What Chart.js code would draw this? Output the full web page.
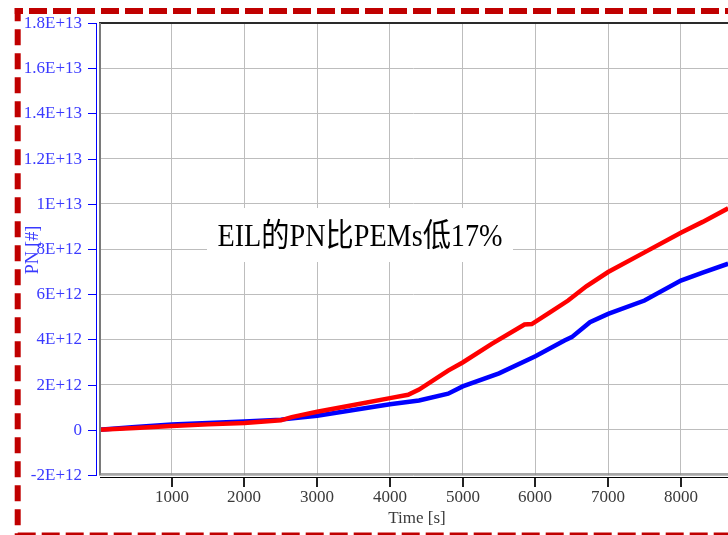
<!DOCTYPE html>
<html><head><meta charset="utf-8">
<script src="https://cdn.jsdelivr.net/npm/chart.js@4.4.1/dist/chart.umd.min.js"></script>
<style>html,body{margin:0;padding:0;background:#fff;overflow:hidden}canvas{display:block}</style>
</head><body>
<canvas id="c" width="728" height="535"></canvas>
<script>
// ---- data (PN values in units of 1E12) ----
const redTime = [0, 500, 1000, 1500, 2000, 2500, 2650, 3000, 3500, 4000, 4250, 4400, 4800, 5000, 5400, 5850, 5950, 6200, 6450, 6700, 7000, 7500, 8000, 8300, 8650];
const redPN   = [0, 0.08, 0.17, 0.24, 0.30, 0.42, 0.56, 0.80, 1.10, 1.40, 1.55, 1.78, 2.62, 2.98, 3.80, 4.66, 4.68, 5.20, 5.72, 6.35, 6.98, 7.85, 8.72, 9.20, 9.80];
const blueTime = [0, 500, 1000, 1500, 2000, 2500, 3000, 3500, 4000, 4400, 4800, 5000, 5500, 6000, 6400, 6500, 6750, 7000, 7500, 8000, 8300, 8650];
const bluePN   = [0, 0.12, 0.23, 0.30, 0.37, 0.45, 0.62, 0.88, 1.13, 1.30, 1.60, 1.92, 2.50, 3.25, 3.95, 4.10, 4.76, 5.13, 5.72, 6.60, 6.95, 7.35];
const xTicks = [0, 1000, 2000, 3000, 4000, 5000, 6000, 7000, 8000];
const xTickLabels = ['', '1000', '2000', '3000', '4000', '5000', '6000', '7000', '8000'];
const yTicks = [-2e12, 0, 2e12, 4e12, 6e12, 8e12, 1e13, 1.2e13, 1.4e13, 1.6e13, 1.8e13];
const yTickLabels = ['-2E+12', '0', '2E+12', '4E+12', '6E+12', '8E+12', '1E+13', '1.2E+13', '1.4E+13', '1.6E+13', '1.8E+13'];
const xTitle = 'Time [s]';
const yTitle = 'PN [#]';
const note = 'EIL的PN比PEMs低17%';
const seriesNames = ['PEMs', 'EIL'];

const toPts = (t, v) => t.map((x, i) => ({ x: x, y: v[i] * 1e12 }));
const SERIF = '"Liberation Serif", "Noto Sans CJK SC", serif';
const BLUE_TXT = '#3a3aff';

const decor = {
  id: 'decor',
  afterDraw(chart) {
    const ctx = chart.ctx, a = chart.chartArea;
    const xs = chart.scales.x, ys = chart.scales.y;
    ctx.save();
    // annotation box + text
    ctx.fillStyle = '#ffffff';
    ctx.fillRect(207, 208, 306, 54);
    ctx.font = '32px ' + SERIF;
    const w = ctx.measureText(note).width;
    ctx.save();
    ctx.translate(360, 238);
    ctx.scale(285 / w, 1);
    ctx.fillStyle = '#000000';
    ctx.textAlign = 'center';
    ctx.textBaseline = 'middle';
    ctx.fillText(note, 0, 0);
    ctx.restore();

    // frame
    ctx.strokeStyle = '#2a2a2a'; ctx.lineWidth = 2;
    ctx.beginPath(); ctx.moveTo(a.left, 23); ctx.lineTo(a.right, 23); ctx.stroke();
    ctx.strokeStyle = '#7a7a7a'; ctx.lineWidth = 2;
    ctx.beginPath(); ctx.moveTo(100, 23); ctx.lineTo(100, 475); ctx.stroke();
    ctx.strokeStyle = '#8a8a8a'; ctx.lineWidth = 1.5;
    ctx.beginPath(); ctx.moveTo(99, 474); ctx.lineTo(a.right, 474); ctx.stroke();
    ctx.strokeStyle = '#000000'; ctx.lineWidth = 1;
    ctx.beginPath(); ctx.moveTo(100, 477.5); ctx.lineTo(a.right, 477.5); ctx.stroke();

    // x ticks + labels
    ctx.font = '17px ' + SERIF;
    ctx.fillStyle = '#3a3a3a';
    ctx.textAlign = 'center'; ctx.textBaseline = 'middle';
    xTicks.forEach((v, i) => {
      const px = Math.round(xs.getPixelForValue(v));
      if (!xTickLabels[i]) return;
      ctx.strokeStyle = '#222'; ctx.lineWidth = 2;
      ctx.beginPath(); ctx.moveTo(px, 478); ctx.lineTo(px, 487); ctx.stroke();
      ctx.fillText(xTickLabels[i], px, 498);
    });
    ctx.fillText(xTitle, 417, 519);

    // y axis (blue)
    ctx.strokeStyle = '#0000ff'; ctx.lineWidth = 1;
    ctx.beginPath(); ctx.moveTo(96.5, 23); ctx.lineTo(96.5, 475); ctx.stroke();
    ctx.fillStyle = BLUE_TXT;
    ctx.textAlign = 'right';
    yTicks.forEach((v, i) => {
      const py = Math.round(ys.getPixelForValue(v)) + 0.5;
      ctx.beginPath(); ctx.moveTo(88, py); ctx.lineTo(97, py); ctx.stroke();
      ctx.fillText(yTickLabels[i], 82, py + 0.5);
    });
    ctx.save();
    ctx.translate(33, 250);
    ctx.rotate(-Math.PI / 2);
    ctx.textAlign = 'center';
    ctx.font = '18px ' + SERIF;
    ctx.fillText(yTitle, 0, 0);
    ctx.restore();

    // dashed red outer border
    ctx.strokeStyle = '#c00000'; ctx.lineWidth = 6;
    ctx.setLineDash([18, 6]); ctx.lineDashOffset = 9.7;
    ctx.beginPath(); ctx.moveTo(14.7, 11); ctx.lineTo(740, 11); ctx.stroke();
    ctx.lineDashOffset = 21;
    ctx.beginPath(); ctx.moveTo(14.7, 535.6); ctx.lineTo(740, 535.6); ctx.stroke();
    ctx.setLineDash([16, 8]); ctx.lineDashOffset = 2.7;
    ctx.beginPath(); ctx.moveTo(17.7, 8); ctx.lineTo(17.7, 540); ctx.stroke();
    ctx.restore();
  }
};

new Chart(document.getElementById('c'), {
  type: 'line',
  data: {
    datasets: [
      { label: seriesNames[1], data: toPts(redTime, redPN), borderColor: '#ff0000', borderWidth: 4.5, pointRadius: 0, tension: 0, fill: false },
      { label: seriesNames[0], data: toPts(blueTime, bluePN), borderColor: '#0000ff', borderWidth: 4.5, pointRadius: 0, tension: 0, fill: false }
    ]
  },
  options: {
    responsive: false, animation: false, devicePixelRatio: 1,
    layout: { padding: { top: 23, left: 0, right: 0, bottom: 0 } },
    plugins: { legend: { display: false }, tooltip: { enabled: false } },
    scales: {
      x: {
        type: 'linear', min: 0, max: 8648,
        afterBuildTicks: s => { s.ticks = xTicks.map(v => ({ value: v })); },
        afterFit: s => { s.height = 60; },
        ticks: { display: false },
        grid: { color: '#bdbdbd', lineWidth: 1, drawTicks: false },
        border: { display: false }
      },
      y: {
        type: 'linear', min: -2e12, max: 1.8e13,
        afterBuildTicks: s => { s.ticks = yTicks.map(v => ({ value: v })); },
        afterFit: s => { s.width = 99; },
        ticks: { display: false },
        grid: { color: '#bdbdbd', lineWidth: 1, drawTicks: false },
        border: { display: false }
      }
    }
  },
  plugins: [decor]
});
</script>
</body></html>
